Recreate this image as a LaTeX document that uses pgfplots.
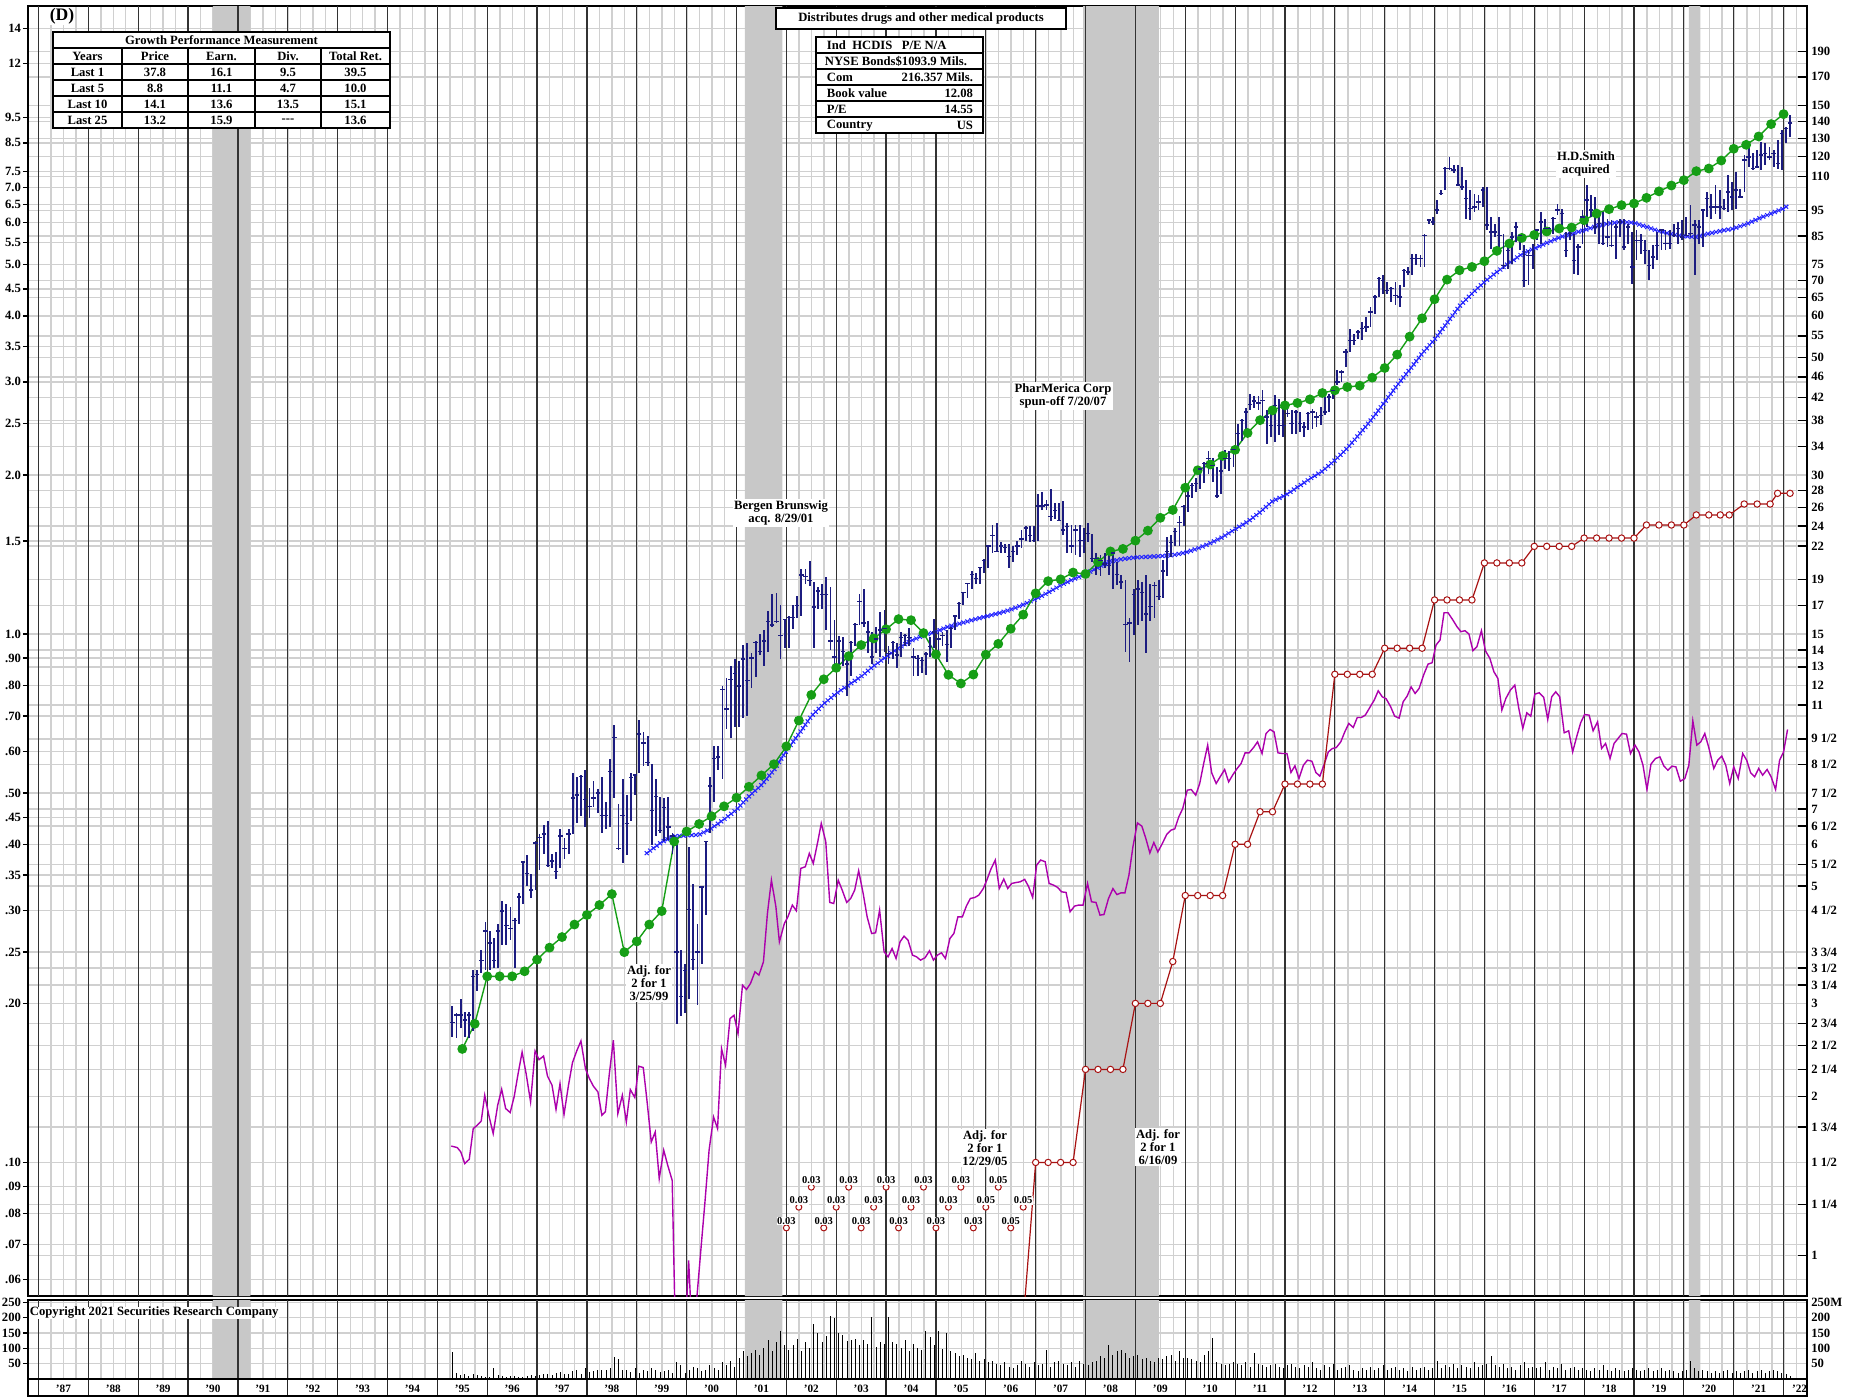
\documentclass[border=0pt]{standalone}
\usepackage{fontspec}
\setmainfont{Liberation Serif}
\usepackage{pgfplots}
\pgfplotsset{compat=1.18}
\usepackage{pgfplotstable}
\usetikzlibrary{decorations.markings}

\definecolor{navyc}{RGB}{28,28,128}
\definecolor{greenc}{RGB}{22,158,22}
\definecolor{mac}{RGB}{172,0,172}
\definecolor{redc}{RGB}{168,18,18}
\definecolor{mablue}{RGB}{35,35,255}
\definecolor{gridc}{RGB}{208,208,208}
\definecolor{shadec}{RGB}{200,200,200}

\newcommand\lab{\fontsize{9}{9.4}\selectfont\bfseries}
\newcommand\smlab{\fontsize{8}{9}\selectfont\bfseries}
\newcommand\tinylab{\fontsize{7.5}{8}\selectfont\bfseries}

\pgfplotsset{
  chartx/.style={scale only axis, width=444.75mm, xmin=1986.79, xmax=2022.47},
  qgrid/.style={xtick={1987,1987.25,...,2022.25}, xticklabels={}, xmajorgrids, xtick style={draw=none}},
}

\pgfplotstableread{
x hi lo c v
1995.300 0.198 0.173 0.184 89
1995.383 0.192 0.172 0.190 20
1995.467 0.204 0.180 0.190 12
1995.550 0.193 0.173 0.186 18
1995.633 0.193 0.172 0.190 10
1995.717 0.231 0.177 0.225 15
1995.800 0.231 0.211 0.227 12
1995.883 0.252 0.228 0.241 9
1995.967 0.285 0.231 0.274 8
1996.050 0.274 0.231 0.260 8
1996.133 0.266 0.233 0.241 35
1996.217 0.283 0.233 0.274 12
1996.300 0.313 0.258 0.299 10
1996.383 0.309 0.258 0.281 8
1996.467 0.304 0.264 0.277 9
1996.550 0.290 0.233 0.287 10
1996.633 0.323 0.283 0.318 8
1996.717 0.372 0.309 0.370 7
1996.800 0.381 0.334 0.352 10
1996.883 0.352 0.316 0.328 12
1996.967 0.405 0.328 0.402 9
1997.050 0.418 0.358 0.412 12
1997.133 0.435 0.384 0.418 15
1997.217 0.442 0.363 0.365 18
1997.300 0.384 0.361 0.372 14
1997.383 0.387 0.344 0.355 20
1997.467 0.428 0.361 0.415 22
1997.550 0.412 0.375 0.393 15
1997.633 0.428 0.384 0.418 18
1997.717 0.545 0.418 0.489 25
1997.800 0.537 0.438 0.496 30
1997.883 0.541 0.452 0.538 18
1997.967 0.553 0.431 0.486 35
1998.050 0.512 0.449 0.472 22
1998.133 0.528 0.470 0.489 25
1998.217 0.508 0.459 0.500 28
1998.300 0.537 0.421 0.453 30
1998.383 0.481 0.428 0.453 30
1998.467 0.580 0.431 0.549 35
1998.550 0.673 0.489 0.637 72
1998.633 0.477 0.390 0.393 65
1998.717 0.532 0.369 0.454 30
1998.800 0.496 0.381 0.438 28
1998.883 0.545 0.442 0.535 22
1998.967 0.541 0.496 0.541 35
1999.050 0.689 0.545 0.647 20
1999.133 0.652 0.562 0.622 30
1999.217 0.642 0.562 0.571 25
1999.300 0.567 0.399 0.463 35
1999.383 0.532 0.415 0.492 28
1999.467 0.492 0.421 0.425 22
1999.550 0.489 0.405 0.470 25
1999.633 0.492 0.408 0.431 30
1999.717 0.421 0.384 0.415 20
1999.800 0.412 0.183 0.250 55
1999.883 0.252 0.189 0.206 45
1999.967 0.237 0.192 0.231 20
2000.050 0.396 0.204 0.301 30
2000.133 0.336 0.231 0.242 40
2000.217 0.283 0.199 0.250 35
2000.300 0.334 0.237 0.332 25
2000.383 0.405 0.294 0.405 30
2000.467 0.537 0.421 0.516 45
2000.550 0.613 0.481 0.581 35
2000.633 0.613 0.553 0.585 30
2000.717 0.798 0.532 0.786 55
2000.800 0.824 0.662 0.721 45
2000.883 0.870 0.637 0.821 60
2000.967 0.897 0.667 0.843 40
2001.050 0.890 0.667 0.798 70
2001.133 0.955 0.694 0.897 90
2001.217 0.963 0.699 0.817 75
2001.300 0.919 0.792 0.901 85
2001.383 0.970 0.830 0.963 95
2001.467 1.001 0.912 0.926 80
2001.550 1.016 0.870 0.970 100
2001.633 1.107 0.926 1.057 127
2001.717 1.188 1.032 1.040 90
2001.800 1.197 1.049 1.057 120
2001.883 1.133 0.897 0.993 157
2001.967 1.065 0.940 1.065 110
2002.050 1.082 0.940 1.074 95
2002.133 1.133 1.024 1.074 110
2002.217 1.179 1.074 1.133 130
2002.300 1.325 1.082 1.294 90
2002.383 1.325 1.245 1.284 120
2002.467 1.377 1.235 1.264 100
2002.550 1.255 0.940 1.125 181
2002.633 1.225 1.116 1.206 150
2002.717 1.245 1.116 1.188 120
2002.800 1.284 1.016 1.188 140
2002.883 1.225 0.933 0.970 206
2002.967 1.065 0.856 0.904 198
2003.050 0.993 0.870 0.970 149
2003.133 0.985 0.870 0.926 143
2003.217 0.926 0.762 0.877 125
2003.300 0.971 0.831 0.963 129
2003.383 1.049 0.948 1.041 132
2003.467 1.189 1.041 1.152 110
2003.550 1.217 1.033 1.049 127
2003.633 1.058 0.919 1.009 115
2003.717 1.009 0.877 0.905 203
2003.800 1.033 0.919 0.978 105
2003.883 1.099 0.905 1.017 120
2003.967 1.108 0.926 1.025 115
2004.050 0.948 0.877 0.919 203
2004.133 0.971 0.898 0.963 122
2004.217 0.963 0.864 0.912 116
2004.300 1.009 0.905 0.986 100
2004.383 1.001 0.948 0.994 129
2004.467 1.025 0.948 0.986 90
2004.550 0.941 0.831 0.905 116
2004.633 0.912 0.831 0.898 100
2004.717 0.905 0.844 0.891 95
2004.800 0.926 0.837 0.916 156
2004.883 0.986 0.905 0.948 138
2004.967 1.066 0.941 1.009 110
2005.050 1.009 0.919 0.978 156
2005.133 1.009 0.948 0.994 97
2005.217 1.017 0.884 0.956 151
2005.300 1.033 0.941 1.025 92
2005.383 1.082 1.017 1.082 84
2005.467 1.152 1.066 1.143 75
2005.550 1.198 1.134 1.198 80
2005.633 1.246 1.170 1.246 70
2005.717 1.316 1.217 1.295 65
2005.800 1.305 1.246 1.275 85
2005.883 1.336 1.246 1.336 60
2005.967 1.389 1.305 1.378 65
2006.050 1.467 1.336 1.467 55
2006.133 1.611 1.422 1.537 60
2006.217 1.624 1.433 1.433 50
2006.300 1.490 1.422 1.467 45
2006.383 1.478 1.422 1.456 55
2006.467 1.478 1.336 1.400 40
2006.550 1.467 1.368 1.433 35
2006.633 1.502 1.411 1.467 45
2006.717 1.574 1.456 1.513 60
2006.800 1.598 1.502 1.586 50
2006.883 1.598 1.490 1.537 40
2006.967 1.598 1.490 1.502 55
2007.050 1.839 1.502 1.747 45
2007.133 1.854 1.714 1.747 50
2007.217 1.797 1.714 1.755 95
2007.300 1.883 1.636 1.670 40
2007.383 1.769 1.649 1.714 55
2007.467 1.769 1.636 1.641 60
2007.550 1.783 1.537 1.574 50
2007.633 1.624 1.422 1.598 45
2007.717 1.611 1.422 1.467 55
2007.800 1.611 1.411 1.574 40
2007.883 1.611 1.400 1.502 60
2007.967 1.586 1.422 1.502 50
2008.050 1.624 1.490 1.549 45
2008.133 1.549 1.368 1.389 55
2008.217 1.422 1.295 1.389 60
2008.300 1.411 1.285 1.378 75
2008.383 1.422 1.336 1.357 70
2008.467 1.422 1.295 1.347 110
2008.550 1.433 1.217 1.422 80
2008.633 1.368 1.236 1.295 90
2008.717 1.295 1.217 1.255 95
2008.800 1.265 0.926 1.041 85
2008.883 1.074 0.884 1.049 70
2008.967 1.217 0.994 1.189 75
2009.050 1.265 1.041 1.217 80
2009.133 1.255 1.058 1.198 65
2009.217 1.295 0.919 1.091 70
2009.300 1.246 1.058 1.126 60
2009.383 1.255 1.074 1.236 55
2009.467 1.265 1.161 1.179 70
2009.550 1.378 1.170 1.316 65
2009.633 1.526 1.285 1.433 75
2009.717 1.537 1.400 1.490 80
2009.800 1.586 1.467 1.562 60
2009.883 1.675 1.467 1.624 90
2009.967 1.755 1.598 1.741 70
2010.050 1.868 1.701 1.825 70
2010.133 1.927 1.811 1.912 65
2010.217 1.973 1.854 1.927 60
2010.300 2.067 1.883 2.051 55
2010.383 2.116 1.927 2.100 80
2010.467 2.217 2.004 2.149 90
2010.550 2.149 1.942 2.084 135
2010.633 2.067 1.811 1.825 55
2010.717 2.133 1.839 2.035 50
2010.800 2.234 2.051 2.149 45
2010.883 2.217 2.035 2.149 50
2010.967 2.270 2.067 2.234 55
2011.050 2.493 2.200 2.397 50
2011.133 2.551 2.323 2.532 45
2011.217 2.673 2.397 2.632 55
2011.300 2.846 2.653 2.715 40
2011.383 2.823 2.673 2.758 85
2011.467 2.823 2.653 2.736 50
2011.550 2.892 2.537 2.768 45
2011.633 2.650 2.291 2.574 40
2011.717 2.650 2.358 2.482 45
2011.800 2.829 2.308 2.708 50
2011.883 2.789 2.376 2.482 40
2011.967 2.708 2.358 2.482 35
2012.050 2.728 2.574 2.612 45
2012.133 2.650 2.393 2.500 50
2012.217 2.650 2.393 2.631 40
2012.300 2.631 2.410 2.500 35
2012.383 2.518 2.358 2.464 45
2012.467 2.631 2.429 2.612 40
2012.550 2.669 2.447 2.631 55
2012.633 2.631 2.464 2.574 35
2012.717 2.689 2.482 2.593 30
2012.800 2.809 2.593 2.631 45
2012.883 2.850 2.631 2.809 40
2012.967 2.892 2.789 2.892 50
2013.050 3.155 2.955 2.997 30
2013.133 3.155 2.997 3.132 35
2013.217 3.468 3.201 3.418 40
2013.300 3.784 3.418 3.596 45
2013.383 3.702 3.519 3.596 30
2013.467 3.757 3.622 3.729 25
2013.550 3.895 3.596 3.784 35
2013.633 3.981 3.729 3.811 30
2013.717 4.158 3.811 4.069 40
2013.800 4.375 4.039 4.344 30
2013.883 4.739 4.344 4.705 35
2013.967 4.774 4.407 4.671 45
2014.050 4.637 4.407 4.472 30
2014.133 4.537 4.250 4.504 35
2014.217 4.637 4.189 4.375 40
2014.300 4.570 4.158 4.344 30
2014.383 4.914 4.537 4.879 35
2014.467 4.950 4.774 4.843 25
2014.550 5.247 4.774 5.134 40
2014.633 5.247 4.987 5.134 30
2014.717 5.209 4.950 5.134 35
2014.800 5.725 4.950 5.684 40
2014.883 6.113 5.981 6.069 30
2014.967 6.157 5.938 6.025 35
2015.050 6.621 6.247 6.339 60
2015.133 6.917 6.768 6.817 35
2015.217 7.657 6.917 7.602 45
2015.300 7.999 7.547 7.602 40
2015.383 7.714 7.438 7.547 50
2015.467 7.714 7.069 7.069 35
2015.550 7.657 6.917 7.018 45
2015.633 7.225 6.113 6.663 40
2015.717 6.917 6.069 6.385 35
2015.800 6.817 6.293 6.431 55
2015.883 6.768 6.339 6.573 40
2015.967 7.018 6.431 6.917 45
2016.050 7.018 5.810 5.938 50
2016.133 6.157 5.363 5.768 75
2016.217 5.981 5.642 5.768 45
2016.300 6.157 5.363 5.684 40
2016.383 5.725 4.914 4.987 50
2016.467 5.481 4.914 5.324 35
2016.550 5.768 5.024 5.642 40
2016.633 6.025 5.521 5.895 30
2016.717 5.725 5.324 5.684 45
2016.800 5.441 4.537 4.671 55
2016.883 5.324 4.570 5.209 35
2016.967 5.481 4.914 5.209 40
2017.050 5.852 5.561 5.810 35
2017.133 6.293 5.481 6.025 40
2017.217 6.113 5.810 5.852 55
2017.300 5.895 5.725 5.852 30
2017.383 6.157 5.725 6.113 40
2017.467 6.526 6.202 6.339 35
2017.550 6.385 5.810 6.247 50
2017.633 5.768 5.172 5.324 30
2017.717 5.938 5.561 5.725 35
2017.800 5.725 4.808 5.097 40
2017.883 5.481 4.774 5.402 30
2017.967 6.339 5.481 6.157 35
2018.050 7.069 5.895 6.621 30
2018.133 6.768 6.157 6.339 25
2018.217 6.719 5.725 5.895 35
2018.300 6.247 5.481 5.981 30
2018.383 6.293 5.441 5.481 45
2018.467 6.113 5.402 5.642 30
2018.550 6.069 5.402 5.441 25
2018.633 5.981 5.134 5.895 35
2018.717 6.113 5.642 6.025 30
2018.800 6.113 5.324 5.402 25
2018.883 5.981 5.481 5.895 30
2018.967 5.768 4.603 4.950 35
2019.050 5.810 5.097 5.561 30
2019.133 5.725 5.247 5.561 25
2019.217 5.561 5.024 5.324 30
2019.300 5.324 4.671 4.987 35
2019.383 5.441 4.914 5.172 25
2019.467 5.768 5.097 5.441 30
2019.550 5.852 5.324 5.810 35
2019.633 5.810 5.324 5.481 25
2019.717 5.810 5.363 5.481 30
2019.800 5.981 5.642 5.684 25
2019.883 6.025 5.481 5.852 20
2019.967 6.069 5.561 5.642 25
2020.050 6.157 5.684 5.684 30
2020.133 6.479 5.642 5.725 60
2020.217 6.069 4.774 5.938 35
2020.300 6.069 5.481 5.895 25
2020.383 6.385 5.402 6.339 30
2020.467 6.867 6.157 6.663 25
2020.550 6.817 6.113 6.431 20
2020.633 7.069 6.247 6.431 25
2020.717 6.917 6.113 6.431 20
2020.800 6.663 6.339 6.385 25
2020.883 7.384 6.293 6.867 30
2020.967 7.173 6.339 6.719 20
2021.050 7.492 6.385 6.917 25
2021.133 6.967 6.719 6.719 20
2021.217 8.057 6.867 7.884 25
2021.300 8.355 7.657 7.999 30
2021.383 8.115 7.547 7.602 20
2021.467 8.235 7.657 7.657 25
2021.550 8.539 7.547 8.057 30
2021.633 8.478 7.714 8.115 20
2021.717 8.355 7.884 7.999 25
2021.800 8.235 7.657 8.115 30
2021.883 8.601 7.602 7.771 25
2021.967 8.986 7.547 8.855 20
2022.050 9.117 8.478 9.051 15
2022.133 9.592 8.727 9.271 10
}\prices

\pgfplotstableread{
x y
1995.50 0.164
1995.75 0.183
1996.00 0.225
1996.25 0.225
1996.50 0.225
1996.75 0.230
1997.00 0.242
1997.25 0.255
1997.50 0.267
1997.75 0.282
1998.00 0.294
1998.25 0.307
1998.50 0.322
1998.75 0.250
1999.00 0.262
1999.25 0.282
1999.50 0.299
1999.75 0.405
2000.00 0.423
2000.25 0.437
2000.50 0.452
2000.75 0.472
2001.00 0.490
2001.25 0.514
2001.50 0.540
2001.75 0.567
2002.00 0.613
2002.25 0.686
2002.50 0.767
2002.75 0.821
2003.00 0.863
2003.25 0.908
2003.50 0.953
2003.75 0.981
2004.00 1.021
2004.25 1.067
2004.50 1.062
2004.75 1.004
2005.00 0.915
2005.25 0.837
2005.50 0.806
2005.75 0.838
2006.00 0.914
2006.25 0.958
2006.50 1.023
2006.75 1.088
2007.00 1.194
2007.25 1.259
2007.50 1.269
2007.75 1.307
2008.00 1.299
2008.25 1.368
2008.50 1.433
2008.75 1.449
2009.00 1.502
2009.25 1.569
2009.50 1.659
2009.75 1.717
2010.00 1.892
2010.25 2.041
2010.50 2.093
2010.75 2.173
2011.00 2.231
2011.25 2.401
2011.50 2.539
2011.75 2.650
2012.00 2.708
2012.25 2.736
2012.50 2.780
2012.75 2.858
2013.00 2.892
2013.25 2.934
2013.50 2.951
2013.75 3.056
2014.00 3.187
2014.25 3.378
2014.50 3.654
2014.75 3.958
2015.00 4.300
2015.25 4.684
2015.50 4.879
2015.75 4.950
2016.00 5.075
2016.25 5.309
2016.50 5.481
2016.75 5.618
2017.00 5.692
2017.25 5.776
2017.50 5.852
2017.75 5.878
2018.00 6.069
2018.25 6.247
2018.50 6.367
2018.75 6.479
2019.00 6.526
2019.25 6.690
2019.50 6.881
2019.75 7.058
2020.00 7.225
2020.25 7.514
2020.50 7.602
2020.75 7.872
2021.00 8.283
2021.25 8.428
2021.50 8.740
2021.75 9.223
2022.00 9.634
}\earn

\pgfplotstableread{
x y
1999.20 0.385
1999.50 0.404
1999.75 0.414
2000.00 0.416
2000.25 0.417
2000.50 0.429
2000.75 0.446
2001.00 0.465
2001.25 0.493
2001.50 0.518
2001.75 0.553
2002.00 0.601
2002.25 0.647
2002.50 0.699
2002.75 0.738
2003.00 0.772
2003.25 0.801
2003.50 0.831
2003.75 0.870
2004.00 0.905
2004.25 0.941
2004.50 0.971
2004.75 0.994
2005.00 1.010
2005.25 1.033
2005.50 1.048
2005.75 1.064
2006.00 1.079
2006.25 1.094
2006.50 1.112
2006.75 1.136
2007.00 1.165
2007.25 1.198
2007.50 1.236
2007.75 1.269
2008.00 1.299
2008.25 1.336
2008.50 1.372
2008.75 1.387
2009.00 1.396
2009.25 1.400
2009.50 1.404
2009.75 1.410
2010.00 1.426
2010.25 1.452
2010.50 1.485
2010.75 1.526
2011.00 1.579
2011.25 1.631
2011.50 1.700
2011.75 1.784
2012.00 1.829
2012.25 1.896
2012.50 1.967
2012.75 2.033
2013.00 2.131
2013.25 2.248
2013.50 2.393
2013.75 2.556
2014.00 2.748
2014.25 2.955
2014.50 3.164
2014.75 3.393
2015.00 3.607
2015.25 3.879
2015.50 4.171
2015.75 4.407
2016.00 4.637
2016.25 4.843
2016.50 5.038
2016.75 5.232
2017.00 5.363
2017.25 5.497
2017.50 5.626
2017.75 5.725
2018.00 5.810
2018.25 5.912
2018.50 5.981
2018.75 6.025
2019.00 5.999
2019.25 5.895
2019.50 5.785
2019.75 5.708
2020.00 5.659
2020.25 5.642
2020.50 5.725
2020.75 5.793
2021.00 5.852
2021.25 5.964
2021.50 6.113
2021.75 6.247
2022.00 6.385
2022.10 6.479
}\mavg

\pgfplotstableread{
x y
2006.75 0.050
2007.00 0.100
2007.25 0.100
2007.50 0.100
2007.75 0.100
2008.00 0.150
2008.25 0.150
2008.50 0.150
2008.75 0.150
2009.00 0.200
2009.25 0.200
2009.50 0.200
2009.75 0.240
2010.00 0.320
2010.25 0.320
2010.50 0.320
2010.75 0.320
2011.00 0.400
2011.25 0.400
2011.50 0.461
2011.75 0.461
2012.00 0.520
2012.25 0.520
2012.50 0.520
2012.75 0.520
2013.00 0.839
2013.25 0.839
2013.50 0.839
2013.75 0.839
2014.00 0.940
2014.25 0.940
2014.50 0.940
2014.75 0.940
2015.00 1.160
2015.25 1.160
2015.50 1.160
2015.75 1.160
2016.00 1.363
2016.25 1.363
2016.50 1.363
2016.75 1.363
2017.00 1.465
2017.25 1.465
2017.50 1.465
2017.75 1.465
2018.00 1.519
2018.25 1.519
2018.50 1.519
2018.75 1.519
2019.00 1.519
2019.25 1.608
2019.50 1.608
2019.75 1.608
2020.00 1.608
2020.25 1.680
2020.50 1.680
2020.73 1.680
2020.91 1.680
2021.21 1.762
2021.47 1.762
2021.73 1.762
2021.88 1.846
2022.13 1.846
}\divs

\pgfplotstableread{
x y
1995.28 0.1074
1995.40 0.1067
1995.47 0.1047
1995.55 0.0995
1995.64 0.1014
1995.72 0.1159
1995.80 0.1176
1995.88 0.1198
1995.95 0.1340
1996.04 0.1219
1996.12 0.1134
1996.21 0.1283
1996.29 0.1376
1996.37 0.1265
1996.46 0.1243
1996.54 0.1331
1996.62 0.1473
1996.70 0.1618
1996.78 0.1473
1996.87 0.1302
1996.96 0.1625
1997.04 0.1565
1997.13 0.1590
1997.21 0.1456
1997.30 0.1400
1997.38 0.1260
1997.46 0.1410
1997.54 0.1232
1997.63 0.1400
1997.71 0.1545
1997.80 0.1630
1997.88 0.1698
1997.97 0.1505
1998.05 0.1441
1998.13 0.1394
1998.22 0.1360
1998.30 0.1228
1998.37 0.1247
1998.45 0.1473
1998.53 0.1703
1998.62 0.1237
1998.71 0.1340
1998.79 0.1193
1998.87 0.1374
1998.96 0.1327
1999.04 0.1521
1999.13 0.1512
1999.20 0.1321
1999.29 0.1093
1999.37 0.1142
1999.45 0.0932
1999.54 0.1055
1999.62 0.0988
1999.71 0.0925
1999.79 0.0400
1999.88 0.0400
1999.96 0.0450
2000.04 0.0653
2000.12 0.0450
2000.20 0.0548
2000.29 0.0692
2000.37 0.0848
2000.45 0.1055
2000.54 0.1219
2000.62 0.1159
2000.70 0.1642
2000.78 0.1527
2000.87 0.1872
2000.95 0.1899
2001.03 0.1753
2001.12 0.2165
2001.20 0.2125
2001.28 0.2181
2001.37 0.2295
2001.45 0.2262
2001.54 0.2397
2001.62 0.2959
2001.70 0.3422
2001.79 0.3047
2001.86 0.2615
2001.96 0.2833
2002.03 0.2916
2002.12 0.3069
2002.20 0.2994
2002.29 0.3602
2002.38 0.3628
2002.46 0.3845
2002.54 0.3681
2002.63 0.4046
2002.70 0.4382
2002.79 0.4046
2002.87 0.3105
2002.95 0.3091
2003.04 0.3422
2003.12 0.3276
2003.21 0.3105
2003.29 0.3159
2003.37 0.3276
2003.45 0.3565
2003.54 0.3229
2003.62 0.2916
2003.71 0.2712
2003.79 0.2720
2003.87 0.3003
2003.96 0.2504
2004.04 0.2450
2004.12 0.2540
2004.20 0.2432
2004.28 0.2615
2004.36 0.2681
2004.44 0.2634
2004.53 0.2468
2004.61 0.2450
2004.69 0.2415
2004.78 0.2439
2004.87 0.2515
2004.95 0.2415
2005.03 0.2468
2005.11 0.2493
2005.19 0.2432
2005.28 0.2654
2005.36 0.2712
2005.44 0.2916
2005.53 0.2916
2005.61 0.3056
2005.69 0.3159
2005.78 0.3173
2005.86 0.3206
2005.95 0.3300
2006.02 0.3422
2006.10 0.3586
2006.19 0.3735
2006.27 0.3300
2006.36 0.3438
2006.44 0.3300
2006.52 0.3373
2006.61 0.3387
2006.69 0.3397
2006.78 0.3433
2006.86 0.3324
2006.94 0.3173
2007.02 0.3654
2007.10 0.3735
2007.19 0.3708
2007.27 0.3373
2007.36 0.3348
2007.44 0.3315
2007.52 0.3252
2007.61 0.3243
2007.69 0.2981
2007.78 0.3056
2007.86 0.3069
2007.95 0.3069
2008.04 0.3373
2008.12 0.3114
2008.21 0.3105
2008.29 0.2938
2008.37 0.2946
2008.46 0.3157
2008.55 0.3298
2008.63 0.3213
2008.71 0.3237
2008.79 0.3237
2008.87 0.3496
2008.95 0.3955
2009.04 0.4391
2009.13 0.4328
2009.21 0.4101
2009.29 0.3853
2009.37 0.4031
2009.45 0.3870
2009.54 0.4013
2009.63 0.4179
2009.71 0.4253
2009.79 0.4278
2009.87 0.4507
2009.95 0.4675
2010.04 0.5064
2010.12 0.5078
2010.21 0.4954
2010.29 0.5213
2010.37 0.5688
2010.45 0.6162
2010.53 0.5461
2010.62 0.5213
2010.70 0.5367
2010.79 0.5541
2010.87 0.5251
2010.95 0.5406
2011.04 0.5565
2011.12 0.5688
2011.20 0.5958
2011.28 0.5958
2011.37 0.6098
2011.45 0.6252
2011.54 0.5941
2011.62 0.6483
2011.70 0.6597
2011.78 0.6530
2011.86 0.5958
2011.95 0.5941
2012.04 0.5941
2012.12 0.5469
2012.20 0.5631
2012.28 0.5328
2012.37 0.5647
2012.45 0.5771
2012.54 0.5745
2012.62 0.5469
2012.70 0.5383
2012.78 0.5647
2012.87 0.5984
2012.95 0.6072
2013.03 0.6098
2013.12 0.6252
2013.20 0.6530
2013.28 0.6772
2013.37 0.6654
2013.45 0.6951
2013.53 0.6951
2013.61 0.7022
2013.71 0.7283
2013.79 0.7497
2013.87 0.7809
2013.95 0.7607
2014.03 0.7541
2014.12 0.7283
2014.20 0.6991
2014.29 0.6931
2014.37 0.7443
2014.45 0.7630
2014.53 0.7946
2014.61 0.7718
2014.69 0.7888
2014.78 0.8362
2014.87 0.8772
2014.95 0.8823
2015.03 0.9530
2015.11 0.9740
2015.19 1.0970
2015.27 1.0970
2015.36 1.0658
2015.45 1.0323
2015.53 1.0100
2015.61 1.0145
2015.69 0.9998
2015.77 0.9296
2015.85 0.9460
2015.94 1.0145
2016.02 0.9296
2016.11 0.8991
2016.19 0.8484
2016.27 0.8241
2016.35 0.7178
2016.43 0.7552
2016.52 0.7831
2016.61 0.8004
2016.69 0.7230
2016.77 0.6626
2016.85 0.7095
2016.93 0.6991
2017.01 0.7696
2017.10 0.7743
2017.19 0.7585
2017.27 0.6891
2017.35 0.7607
2017.43 0.7775
2017.51 0.7607
2017.60 0.6503
2017.69 0.6559
2017.77 0.5984
2017.85 0.6389
2017.93 0.6791
2018.01 0.7042
2018.10 0.7022
2018.18 0.6559
2018.27 0.6821
2018.35 0.6072
2018.43 0.6207
2018.52 0.5813
2018.60 0.6207
2018.68 0.6343
2018.76 0.6483
2018.85 0.6464
2018.93 0.5941
2019.02 0.6162
2019.10 0.5984
2019.18 0.5647
2019.26 0.5078
2019.34 0.5671
2019.43 0.5813
2019.52 0.5855
2019.60 0.5623
2019.68 0.5525
2019.76 0.5623
2019.84 0.5606
2019.93 0.5266
2020.02 0.5328
2020.10 0.5647
2020.18 0.6851
2020.26 0.6162
2020.34 0.6252
2020.42 0.6483
2020.50 0.6098
2020.60 0.5565
2020.68 0.5771
2020.76 0.5872
2020.84 0.5647
2020.92 0.5213
2021.00 0.5606
2021.09 0.5328
2021.18 0.5941
2021.26 0.5771
2021.34 0.5461
2021.42 0.5367
2021.50 0.5565
2021.58 0.5406
2021.67 0.5541
2021.75 0.5367
2021.84 0.5078
2021.92 0.5771
2022.00 0.5984
2022.08 0.6597
}\rel

\begin{document}
\begin{tikzpicture}
\useasboundingbox (0,0) rectangle (464.5mm,-349.5mm);

\begin{axis}[chartx, at={(7mm,-1.5mm)}, anchor=north west, height=322.5mm,
  ymode=log, ymin=0.8382, ymax=231.45,
  axis x line=none, axis y line*=right,
  y axis line style={line width=0.7mm},
  ytick={1,1.25,1.5,1.75,2,2.25,2.5,2.75,3,3.25,3.5,3.75,4.5,5,5.5,6,6.5,7,7.5,8.5,9.5,11,12,13,14,15,17,19,22,24,26,28,30,34,38,42,46,50,55,60,65,70,75,85,95,110,120,130,140,150,170,190},
  yticklabels={1,1 1/4,1 1/2,1 3/4,2,2 1/4,2 1/2,2 3/4,3,3 1/4,3 1/2,3 3/4,4 1/2,5,5 1/2,6,6 1/2,7,7 1/2,8 1/2,9 1/2,11,12,13,14,15,17,19,22,24,26,28,30,34,38,42,46,50,55,60,65,70,75,85,95,110,120,130,140,150,170,190},
  yminorticks=false,
  ymajorgrids, grid style={gridc, line width=0.35mm},
  tick align=inside, major tick length=2.25mm,
  ytick style={black, line width=0.35mm},
  yticklabel style={font=\lab, anchor=west, inner sep=0pt, xshift=1mm},
]
\addplot[draw=none, forget plot] coordinates {(2000,10)};
\end{axis}

\begin{axis}[chartx, qgrid, at={(7mm,-1.5mm)}, anchor=north west, height=322.5mm,
  ymode=log, ymin=0.05588, ymax=15.43,
  axis line style={line width=0.6mm},
  ytick={0.06,0.07,0.08,0.09,0.1,0.2,0.25,0.3,0.35,0.4,0.45,0.5,0.6,0.7,0.8,0.9,1,1.5,2,2.5,3,3.5,4,4.5,5,5.5,6,6.5,7,7.5,8.5,9.5,12,14},
  yticklabels={.06,.07,.08,.09,.10,.20,.25,.30,.35,.40,.45,.50,.60,.70,.80,.90,1.0,1.5,2.0,2.5,3.0,3.5,4.0,4.5,5.0,5.5,6.0,6.5,7.0,7.5,8.5,9.5,12,14},
  yminorticks=false, ytick pos=left,
  ymajorgrids, grid style={gridc, line width=0.35mm},
  tick align=outside, major tick length=1.3mm,
  ytick style={black, line width=0.35mm},
  yticklabel style={font=\lab, inner sep=0.4mm},
]
\addplot[fill=shadec, draw=none] coordinates {(1990.50,0.05588)(1990.50,15.43)(1991.25,15.43)(1991.25,0.05588)(1990.50,0.05588)};
\addplot[fill=shadec, draw=none] coordinates {(2001.17,0.05588)(2001.17,15.43)(2001.92,15.43)(2001.92,0.05588)(2001.17,0.05588)};
\addplot[fill=shadec, draw=none] coordinates {(2007.95,0.05588)(2007.95,15.43)(2009.47,15.43)(2009.47,0.05588)(2007.95,0.05588)};
\addplot[fill=shadec, draw=none] coordinates {(2020.10,0.05588)(2020.10,15.43)(2020.33,15.43)(2020.33,0.05588)(2020.10,0.05588)};
\pgfplotsinvokeforeach{1987,...,2022}{\addplot[black!80, line width=0.3mm] coordinates {(#1,0.05588)(#1,15.43)};}
\addplot[mac, line width=0.35mm] table {\rel};
\addplot[redc, line width=0.3mm, mark=*, mark size=0.8mm, mark options={fill=white, draw=redc, line width=0.25mm}] table {\divs};
\addplot[only marks, mark=*, mark size=0.75mm, mark options={fill=white, draw=redc, line width=0.25mm},
  nodes near coords, point meta=explicit symbolic, nodes near coords align={south},
  every node near coord/.append style={font=\tinylab, fill=white, inner sep=0.4pt, yshift=0.5mm}]
  coordinates {(2002.00,0.0752)[0.03] (2002.25,0.0823)[0.03] (2002.50,0.0898)[0.03] (2002.75,0.0752)[0.03]
  (2003.00,0.0823)[0.03] (2003.25,0.0898)[0.03] (2003.50,0.0752)[0.03] (2003.75,0.0823)[0.03]
  (2004.00,0.0898)[0.03] (2004.25,0.0752)[0.03] (2004.50,0.0823)[0.03] (2004.75,0.0898)[0.03]
  (2005.00,0.0752)[0.03] (2005.25,0.0823)[0.03] (2005.50,0.0898)[0.03] (2005.75,0.0752)[0.03]
  (2006.00,0.0823)[0.05] (2006.25,0.0898)[0.05] (2006.50,0.0752)[0.05] (2006.75,0.0823)[0.05]};
\addplot[mablue, line width=0.12mm, postaction={decorate},
  decoration={markings, mark=between positions 0 and 1 step 1.04mm with {\pgftransformresetnontranslations
   \draw[mablue, line width=0.25mm] (-0.5mm,-0.5mm)--(0.5mm,0.5mm) (-0.5mm,0.5mm)--(0.5mm,-0.5mm);}}] table {\mavg};
\addplot[greenc, line width=0.35mm, mark=*, mark size=1.05mm] table {\earn};
\addplot[navyc, only marks, mark=-, mark size=0.55mm, mark options={line width=0.35mm},
  error bars/.cd, y dir=both, y explicit, error mark=none, error bar style={navyc, line width=0.45mm}]
  table[x=x, y=c, y error plus expr=\thisrow{hi}-\thisrow{c}, y error minus expr=\thisrow{c}-\thisrow{lo}] {\prices};
\end{axis}

\begin{axis}[chartx, at={(7mm,-325mm)}, anchor=north west, height=19.75mm,
  ymin=0, ymax=258, axis x line=none, axis y line*=right,
  y axis line style={line width=0.7mm},
  ytick={50,100,150,200,250}, yticklabels={50,100,150,200,250M},
  tick align=inside, major tick length=2.25mm, ytick style={black, line width=0.35mm},
  yticklabel style={font=\lab, anchor=west, inner sep=0pt, xshift=1mm},
]
\addplot[draw=none, forget plot] coordinates {(2000,10)};
\end{axis}

\begin{axis}[chartx, qgrid, at={(7mm,-325mm)}, anchor=north west, height=19.75mm,
  ymin=0, ymax=258, axis line style={line width=0.6mm},
  ytick={50,100,150,200,250}, yticklabels={50,100,150,200,250}, ytick pos=left,
  ymajorgrids, grid style={gridc, line width=0.35mm},
  tick align=outside, major tick length=1.3mm, ytick style={black, line width=0.35mm},
  yticklabel style={font=\lab, inner sep=0.4mm},
]
\addplot[fill=shadec, draw=none] coordinates {(1990.50,0)(1990.50,258)(1991.25,258)(1991.25,0)(1990.50,0)};
\addplot[fill=shadec, draw=none] coordinates {(2001.17,0)(2001.17,258)(2001.92,258)(2001.92,0)(2001.17,0)};
\addplot[fill=shadec, draw=none] coordinates {(2007.95,0)(2007.95,258)(2009.47,258)(2009.47,0)(2007.95,0)};
\addplot[fill=shadec, draw=none] coordinates {(2020.10,0)(2020.10,258)(2020.33,258)(2020.33,0)(2020.10,0)};
\pgfplotsinvokeforeach{1987,...,2022}{\addplot[black!80, line width=0.3mm] coordinates {(#1,0)(#1,258)};}
\addplot[ycomb, black, line width=0.25mm] table[x=x, y=v] {\prices};
\end{axis}

\begin{axis}[chartx, at={(7mm,-344.75mm)}, anchor=north west, height=4.25mm,
  ymin=0, ymax=1, axis line style={line width=0.6mm},
  xtick={1987,1988,...,2022}, xticklabels={}, xmajorgrids, grid style={black!85, line width=0.3mm},
  xtick style={draw=none}, ytick=\empty, clip=false]
\addplot[draw=none, nodes near coords, point meta=explicit symbolic, nodes near coords align={center},
  every node near coord/.append style={font=\smlab, inner sep=0pt}]
  coordinates {(1987.5,0.45)['87] (1988.5,0.45)['88] (1989.5,0.45)['89] (1990.5,0.45)['90] (1991.5,0.45)['91]
  (1992.5,0.45)['92] (1993.5,0.45)['93] (1994.5,0.45)['94] (1995.5,0.45)['95] (1996.5,0.45)['96]
  (1997.5,0.45)['97] (1998.5,0.45)['98] (1999.5,0.45)['99] (2000.5,0.45)['00] (2001.5,0.45)['01]
  (2002.5,0.45)['02] (2003.5,0.45)['03] (2004.5,0.45)['04] (2005.5,0.45)['05] (2006.5,0.45)['06]
  (2007.5,0.45)['07] (2008.5,0.45)['08] (2009.5,0.45)['09] (2010.5,0.45)['10] (2011.5,0.45)['11]
  (2012.5,0.45)['12] (2013.5,0.45)['13] (2014.5,0.45)['14] (2015.5,0.45)['15] (2016.5,0.45)['16]
  (2017.5,0.45)['17] (2018.5,0.45)['18] (2019.5,0.45)['19] (2020.5,0.45)['20] (2021.5,0.45)['21]
  (2022.32,0.45)['22]};
\end{axis}

\begin{scope}[x=0.25mm,y=-0.25mm]
\node[font=\fontsize{12.5}{12.5}\selectfont\bfseries, fill=white, inner sep=0.5pt] at (62,16) {(D)};

\node[font=\lab, align=center, fill=white, inner sep=1pt] at (781,513) {Bergen Brunswig\\acq. 8/29/01};
\node[font=\lab, align=center, fill=white, inner sep=1pt] at (1063,396) {PharMerica Corp\\spun-off 7/20/07};
\node[font=\lab, align=center, fill=white, inner sep=1pt] at (649,983) {Adj. for\\2 for 1\\3/25/99};
\node[font=\lab, align=center, fill=white, inner sep=1pt] at (985,1148) {Adj. for\\2 for 1\\12/29/05};
\node[font=\lab, align=center, fill=white, inner sep=1pt] at (1158,1147) {Adj. for\\2 for 1\\6/16/09};
\node[font=\lab, align=center, fill=white, inner sep=1pt] at (1586,164) {H.D.Smith\\acquired};
\node[font=\lab, anchor=west, fill=white, inner sep=0.5pt] at (29,1313) {Copyright 2021 Securities Research Company};

\draw[line width=0.5mm, fill=white] (53,32) rectangle (390,128);
\foreach \yy in {48,64,80,96,112} \draw[line width=0.3mm] (53,\yy)--(390,\yy);
\foreach \xx in {122,188,255,321} \draw[line width=0.3mm] (\xx,48)--(\xx,128);
\node[font=\lab] at (221.5,40.5) {Growth Performance Measurement};
\foreach \xx/\tt in {87.5/Years,155/Price,221.5/Earn.,288/Div.,355.5/Total Ret.} \node[font=\lab] at (\xx,56.5) {\tt};
\foreach \xx/\tt in {87.5/Last 1,155/37.8,221.5/16.1,288/9.5,355.5/39.5} \node[font=\lab] at (\xx,72.5) {\tt};
\foreach \xx/\tt in {87.5/Last 5,155/8.8,221.5/11.1,288/4.7,355.5/10.0} \node[font=\lab] at (\xx,88.5) {\tt};
\foreach \xx/\tt in {87.5/Last 10,155/14.1,221.5/13.6,288/13.5,355.5/15.1} \node[font=\lab] at (\xx,104.5) {\tt};
\node[font=\lab] at (87.5,120.5) {Last 25};
\node[font=\lab] at (155,120.5) {13.2};
\node[font=\lab] at (221.5,120.5) {15.9};
\node[font=\lab] at (288,120.5) {-{}-{}-};
\node[font=\lab] at (355.5,120.5) {13.6};

\draw[line width=0.5mm, fill=white] (776,8) rectangle (1066,29);
\node[font=\lab] at (921,18.5) {Distributes drugs and other medical products};

\draw[line width=0.5mm, fill=white] (816,37) rectangle (983,133);
\foreach \yy in {53,69,85,101,117} \draw[line width=0.3mm] (816,\yy)--(983,\yy);
\node[font=\lab, anchor=west] at (822,45.5) {Ind\ \ HCDIS\ \ \ P/E N/A};
\node[font=\lab, anchor=west] at (820,61.5) {NYSE Bonds\$1093.9 Mils.};
\node[font=\lab, anchor=west] at (822,77.5) {Com};
\node[font=\lab, anchor=east] at (978,77.5) {216.357 Mils.};
\node[font=\lab, anchor=west] at (822,93.5) {Book value};
\node[font=\lab, anchor=east] at (978,93.5) {12.08};
\node[font=\lab, anchor=west] at (822,109.5) {P/E};
\node[font=\lab, anchor=east] at (978,109.5) {14.55};
\node[font=\lab, anchor=west] at (822,125.5) {Country};
\node[font=\lab, anchor=east] at (978,125.5) {US};
\end{scope}
\end{tikzpicture}
\end{document}
